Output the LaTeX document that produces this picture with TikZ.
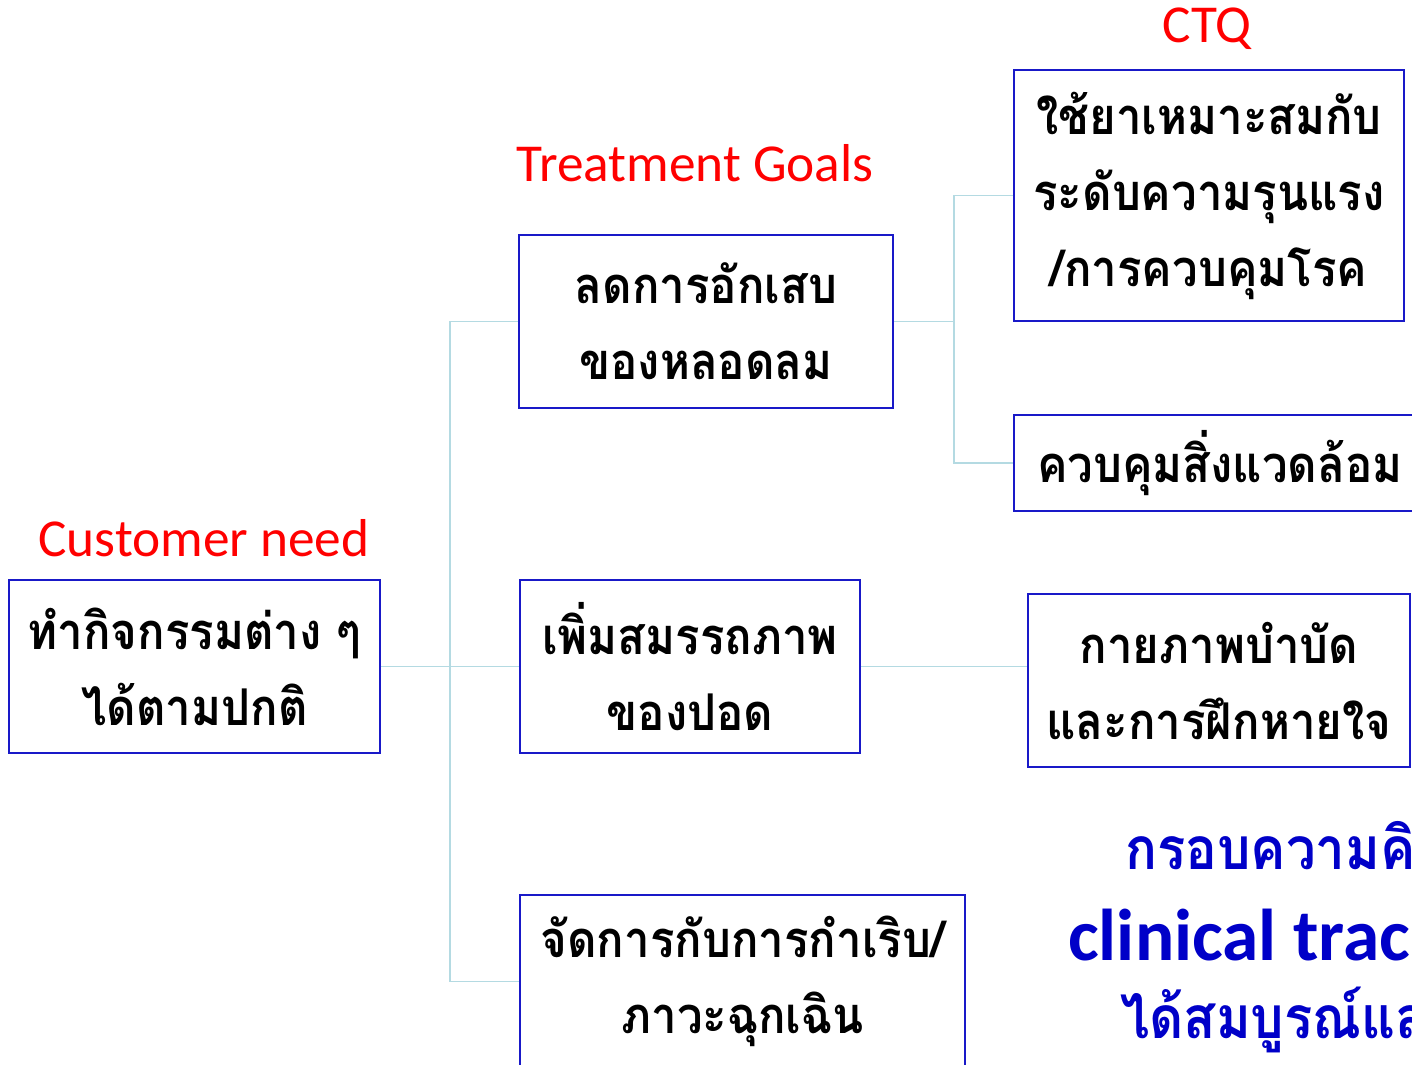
\documentclass[tikz,border=0pt]{standalone}
\usepackage{fontspec}
\usepackage{xcolor}
\setmainfont{Carlito}
\newfontfamily\thaifont[Script=Thai, FakeStretch=0.9]{Loma}
\definecolor{boxblue}{RGB}{25, 25, 200}
\definecolor{linkblue}{RGB}{180, 218, 226}
\definecolor{noteblue}{RGB}{0, 0, 200}

\begin{document}
\begin{tikzpicture}[x=0.75pt, y=-0.75pt,
    box/.style={draw=boxblue, line width=1.5pt, align=center, inner sep=0pt,
                minimum height=173*0.75pt, font=\thaifont\bfseries\fontsize{38}{57}\selectfont},
    link/.style={linkblue, line width=1.2pt},
    heading/.style={red, font=\fontsize{40}{48}\selectfont}]
    \useasboundingbox (0,0) rectangle (1412,1064);
    \clip (0,0) rectangle (1412,1064);

    % headings
    \node[heading] (ctqhead) at (1207,29) {CTQ};
    \node[heading] (goalhead) at (695,163) {Treatment Goals};
    \node[heading] (needhead) at (204,538) {Customer need};

    % boxes
    \node[box, minimum width=371*0.75pt] (cn) at (194.5,666.5) {ทำกิจกรรมต่าง ๆ\\ได้ตามปกติ};
    \node[box, minimum width=374*0.75pt] (tg1) at (706,321.5) {ลดการอักเสบ\\ของหลอดลม};
    \node[box, minimum width=340*0.75pt] (tg2) at (690,666.5) {เพิ่มสมรรถภาพ\\ของปอด};
    \node[box, minimum width=445*0.75pt] (tg3) at (742.5,981.5) {จัดการกับการกำเริบ/\\ภาวะฉุกเฉิน};
    \node[box, minimum width=390*0.75pt, minimum height=251*0.75pt] (ctq1) at (1209,195.5)
        {ใช้ยาเหมาะสมกับ\\ระดับความรุนแรง\\/การควบคุมโรค};
    \node[box, minimum width=412*0.75pt, minimum height=96*0.75pt] (ctq2) at (1220,463) {ควบคุมสิ่งแวดล้อม};
    \node[box, minimum width=382*0.75pt] (ctq3) at (1219,680.5) {กายภาพบำบัด\\และการฝึกหายใจ};

    % connectors
    \coordinate (trunkA) at (450,0);
    \coordinate (trunkB) at (954,0);
    \draw[link] (cn.east) -- (tg2.west);
    \draw[link] (tg1.west) -| (trunkA |- tg3.west) -- (tg3.west);
    \draw[link] (tg1.east) -- (trunkB |- tg1.east);
    \draw[link] (ctq1.west) -| (trunkB |- ctq2.west) -- (ctq2.west);
    \draw[link] (tg2.east) -- (tg2.east -| ctq3.west);

    % note at bottom right
    \node[noteblue, anchor=west, inner sep=0pt, font=\thaifont\bfseries\fontsize{44}{48}\selectfont] (note1) at (1125,846) {กรอบความคิ};
    \node[noteblue, anchor=west, inner sep=0pt, font=\bfseries\fontsize{55}{60}\selectfont] (note2) at (1068,935) {clinical trac};
    \node[noteblue, anchor=west, inner sep=0pt, font=\thaifont\bfseries\fontsize{44}{48}\selectfont] (note3) at (1120,1020) {ได้สมบูรณ์แล};
\end{tikzpicture}
\end{document}
